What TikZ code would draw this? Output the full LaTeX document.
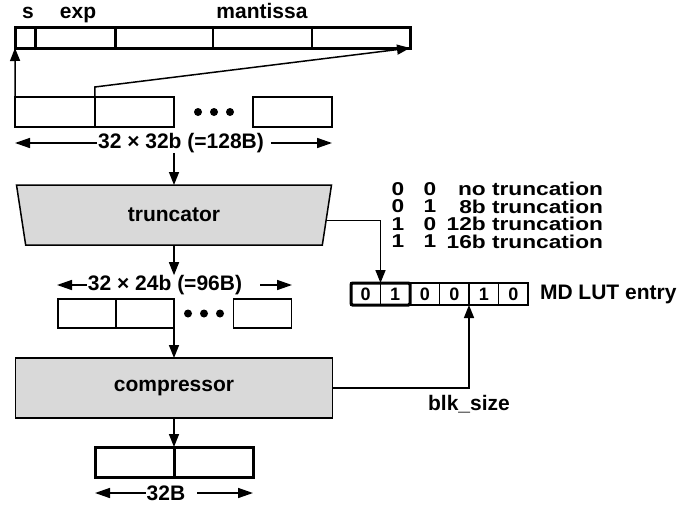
\documentclass[tikz,border=0pt]{standalone}
\usepackage{fontspec}
\setmainfont{Liberation Sans}
\newfontfamily\tblfamily[FakeStretch=1.22]{Liberation Sans}
\usepackage{tikz}
\usetikzlibrary{arrows.meta,positioning,shapes.geometric}
\newcommand\figfont{\fontsize{21}{25}\selectfont\bfseries}
\newcommand\tblfont{\tblfamily\fontsize{18.6}{17.5}\selectfont\bfseries\lineskiplimit=-20pt}
\newcommand\lutfont{\fontsize{18}{22}\selectfont\bfseries}

\begin{document}
\begin{tikzpicture}[x=1pt,y=-1pt,
  every node/.style={font=\figfont,inner sep=0pt,outer sep=0pt},
  fld/.style={draw,line width=1.5pt,minimum height=21pt,anchor=west},
  cell/.style={draw,line width=1.8pt,minimum height=30pt},
  blk/.style={draw,line width=1.5pt,fill=black!15,minimum height=60pt},
  trap/.style={blk,trapezium,trapezium angle=56.6,shape border rotate=180,
    trapezium stretches body,minimum width=315pt},
  bit/.style={draw,line width=1.2pt,font=\lutfont,minimum width=29.5pt,
    minimum height=22pt},
  dim/.style={fill=white,inner xsep=1pt},
  tbl/.style={font=\tblfont,align=center,anchor=north},
  arr/.style={-{Triangle[length=13pt,width=10pt]},line width=1.5pt},
  darr/.style={-{Triangle[length=15pt,width=10pt]},line width=1.5pt}
]
\useasboundingbox (0,0) rectangle (696,506);
%% float word
\node[anchor=base] (ls) at (28,18) {s};
\node[anchor=base] (lexp) at (78,18) {exp};
\node[anchor=base] (lman) at (262,18) {mantissa};
\foreach \n/\x/\w in {f1/15/20,f2/35/80,f3/115/98,f4/213/99,f5/312/98}
  \node[fld,minimum width=\w pt] (\n) at (\x,37.5) {};
\draw[line width=3pt] (f1.north west) rectangle (f5.south east);
\draw[line width=3pt] (f1.north east) -- (f1.south east);
\draw[line width=3pt] (f2.north east) -- (f2.south east);
%% 32 x 32b input
\node[cell,minimum width=79.5pt] (b1) at (55,112) {};
\node[cell,minimum width=79.5pt] (b2) at (134.5,112) {};
\node[cell,minimum width=79.5pt] (b3) at (292.5,112) {};
\foreach \x in {198,214,230} \fill (\x,112) circle (4pt);
\draw[arr] (b1.north west) -- (f1.south west);
\draw[arr] (b1.north east) -- ++(0,-10) -- (f5.south east);
\coordinate (w128l) at (15,143);
\coordinate (w128r) at (332,143);
\node[dim] (w128) at (181,143) {32 × 32b (=128B)};
\draw[darr] (w128.west) -- (w128l);
\draw[darr] ([xshift=6pt]w128.east) -- (w128r);
%% truncator
\node[trap] (trunc) at (174,215) {truncator};
\draw[arr] (trunc.north |- w128.south) -- (trunc.north);
\coordinate (w96l) at (57,285);
\coordinate (w96r) at (292,285);
\node[dim] (w96) at (165,285) {32 × 24b (=96B)};
\draw[arr] (trunc.south) -- (trunc.south |- w96.north);
\draw[darr] (w96.west) -- (w96l);
\draw[darr] ([xshift=17pt]w96.east) -- (w96r);
%% 32 x 24b
\node[cell,minimum width=58pt,minimum height=29pt] (r1) at (87,313.5) {};
\node[cell,minimum width=58pt,minimum height=29pt] (r2) at (145,313.5) {};
\node[cell,minimum width=58pt,minimum height=29pt] (r3) at (262.5,313.5) {};
\foreach \x in {188,204,220} \fill (\x,313.5) circle (4pt);
%% compressor
\node[blk,minimum width=317pt] (comp) at (174,388) {compressor};
\draw[arr] (r2.south east) -- (comp.north);
\node[cell,line width=3pt,minimum width=79pt] (o1) at (134.5,462) {};
\node[cell,line width=3pt,minimum width=79pt] (o2) at (213.5,462) {};
\draw[arr] (comp.south) -- (o1.north east);
\coordinate (w32l) at (95,493);
\coordinate (w32r) at (253,493);
\node[dim] (w32) at (166,493) {32B};
\draw[darr] (w32.west) -- (w32l);
\draw[darr] ([xshift=11pt]w32.east) -- (w32r);
%% MD LUT entry
\node[tbl] (tb1) at (398,182.5) {0\\0\\1\\1};
\node[tbl] (tb2) at (430,182.5) {0\\1\\0\\1};
\node[tbl,anchor=north east,align=right] (tb3) at (603,182.5)
  {no truncation\\8b truncation\\12b truncation\\16b truncation};
\foreach \v [count=\i] in {0,1,0,0,1,0}
  \node[bit] (c\i) at ({365.75+29.5*(\i-1)},294) {\v};
\draw[line width=3pt,rounded corners=1.5pt] (c1.north west) rectangle (c2.south east);
\node[anchor=west] (lut) at ([xshift=12pt]c6.east) {MD LUT entry};
\draw[arr] (trunc.-2.6) -| (c1.north east);
\draw[arr] (comp.east) -| node[below=7pt] {blk\_size} (c4.south east);
\end{tikzpicture}
\end{document}
